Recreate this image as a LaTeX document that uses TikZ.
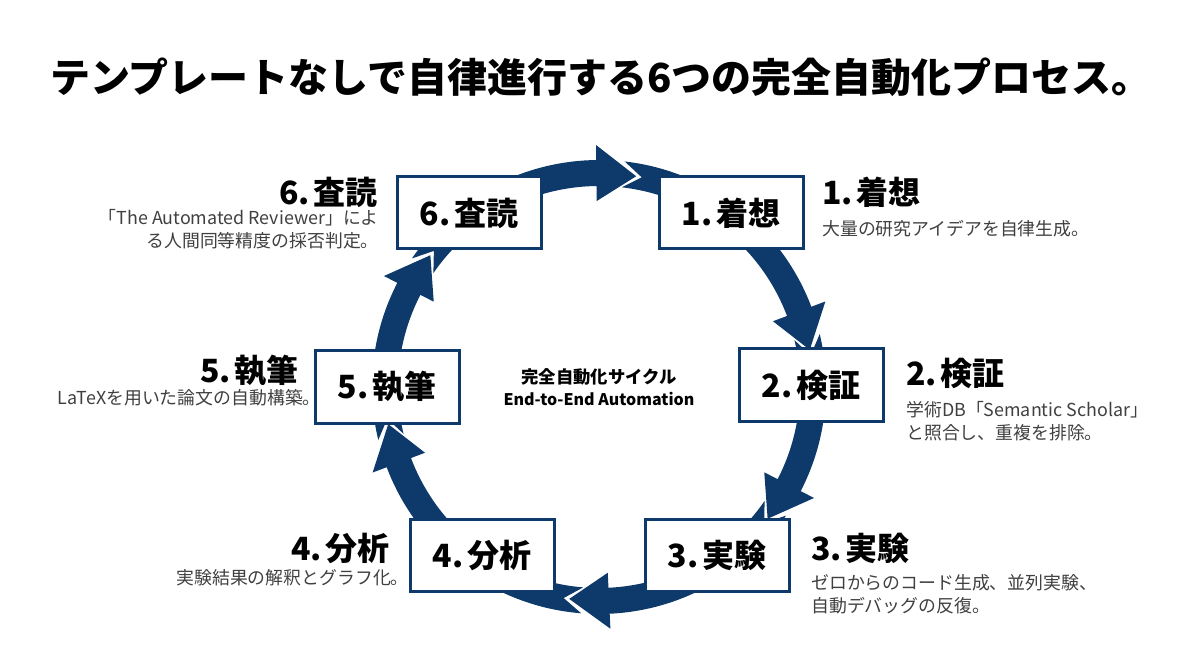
\documentclass[tikz,border=0pt]{standalone}
\usepackage{fontspec}
\setmainfont{Noto Sans CJK JP}
\definecolor{navy}{RGB}{14,58,107}
\definecolor{descgray}{RGB}{64,64,64}
\newcommand\nsp{\hspace{0.12em}}
\begin{document}
\begin{tikzpicture}[x=0.75pt,y=-0.75pt,
  box/.style={draw=navy, line width=2.25pt, fill=white, minimum width=108pt, minimum height=54pt, inner sep=0pt, font=\bfseries\fontsize{24}{28}\selectfont},
  head/.style={font=\bfseries\fontsize{24}{28}\selectfont, inner sep=0pt},
  desc/.style={font=\fontsize{13.4}{17.5}\selectfont, text=descgray, inner sep=0pt},
  ringseg/.style={fill=navy}]
\useasboundingbox[fill=white] (0,0) rectangle (1200,670);

% title
\node[font=\bfseries\fontsize{30}{34}\selectfont, inner sep=0pt] (title) at (601,77) {テンプレートなしで自律進行する6つの完全自動化プロセス。};

% ring of arrow segments
\foreach \T/\P in {140.5/80, 78.5/10, 8.5/-38, -39.5/-98, -99.5/-170, -171.5/-218}{
  \fill[ringseg] ({599+227*cos(\T+5)},{387-227*sin(\T+5)})
    -- plot[domain=\T+5:\P+10.7, samples=40] ({599+227*cos(\x)},{387-227*sin(\x)})
    -- ({599+242*cos(\P+10.7)},{387-242*sin(\P+10.7)})
    -- ({599+214*cos(\P)},{387-214*sin(\P)})
    -- ({599+186*cos(\P+10.7)},{387-186*sin(\P+10.7)})
    -- ({599+201*cos(\P+10.7)},{387-201*sin(\P+10.7)})
    -- plot[domain=\P+10.7:\T+5, samples=40] ({599+201*cos(\x)},{387-201*sin(\x)})
    -- ({599+214*cos(\T)},{387-214*sin(\T)})
    -- cycle;
}

% boxes
\node[box] (b1) at (731,213) {1.\nsp 着想};
\node[box] (b2) at (811,385) {2.\nsp 検証};
\node[box] (b3) at (717,555) {3.\nsp 実験};
\node[box] (b4) at (482,555) {4.\nsp 分析};
\node[box] (b5) at (387,387) {5.\nsp 執筆};
\node[box] (b6) at (469,213) {6.\nsp 査読};

% centre text
\node[font=\bfseries\fontsize{13}{16.5}\selectfont, align=center, inner sep=0pt] (ctr) at (599,387) {完全自動化サイクル\\{\fontsize{12}{16.5}\selectfont End-to-End Automation}};

% side labels
\node[head, anchor=west] (h1) at (822,192) {1.\nsp 着想};
\node[desc, anchor=west] (d1) at (822,229) {大量の研究アイデアを自律生成。};

\node[head, anchor=west] (h2) at (906,373) {2.\nsp 検証};
\node[desc, anchor=west, align=left] (d2) at (906,421.5) {学術DB「Semantic Scholar」\\と照合し、重複を排除。};

\node[head, anchor=west] (h3) at (811,548) {3.\nsp 実験};
\node[desc, anchor=west, align=left] (d3) at (811,594) {ゼロからのコード生成、並列実験、\\自動デバッグの反復。};

\node[head, anchor=east] (h4) at (390,548) {4.\nsp 分析};
\node[desc, anchor=east] (d4) at (409,578) {実験結果の解釈とグラフ化。};

\node[head, anchor=east] (h5) at (299,371) {5.\nsp 執筆};
\node[desc, anchor=east] (d5) at (321,398) {LaTeXを用いた論文の自動構築。};

\node[head, anchor=east] (h6) at (378,192) {6.\nsp 査読};
\node[desc, anchor=east, align=right] (d6) at (379,229.5) {「The Automated Reviewer」によ\\る人間同等精度の採否判定。};
\end{tikzpicture}
\end{document}
